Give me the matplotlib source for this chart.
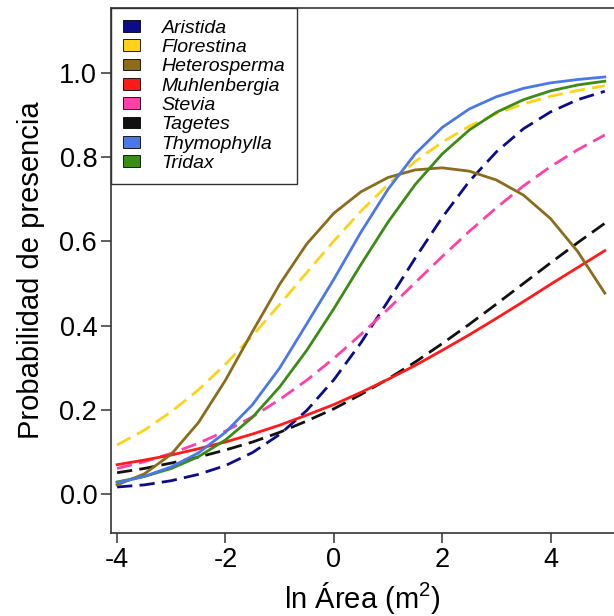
import numpy as np
import matplotlib
matplotlib.use("Agg")
import matplotlib.pyplot as plt
from matplotlib.patches import Patch

plt.rcParams['font.family'] = ['Liberation Sans', 'DejaVu Sans']
plt.rcParams['mathtext.fontset'] = 'custom'
plt.rcParams['mathtext.rm'] = 'Liberation Sans'

# ln área (eje x) donde se leyeron las curvas
ln_area = [-4.0, -3.5, -3.0, -2.5, -2.0, -1.5, -1.0, -0.5, 0.0, 0.5,
           1.0, 1.5, 2.0, 2.5, 3.0, 3.5, 4.0, 4.5, 5.0]

# probabilidad de presencia por género
aristida = [0.016, 0.021, 0.031, 0.046, 0.067, 0.098, 0.141, 0.198, 0.271, 0.359,
            0.458, 0.560, 0.657, 0.743, 0.813, 0.868, 0.908, 0.937, 0.957]
florestina = [0.116, 0.151, 0.195, 0.247, 0.308, 0.376, 0.450, 0.526, 0.601, 0.672,
              0.735, 0.790, 0.836, 0.874, 0.904, 0.927, 0.945, 0.959, 0.970]
heterosperma = [0.021, 0.047, 0.094, 0.169, 0.270, 0.386, 0.498, 0.594, 0.667, 0.718,
                0.752, 0.770, 0.775, 0.767, 0.746, 0.710, 0.654, 0.576, 0.477]
muhlenbergia = [0.069, 0.080, 0.092, 0.107, 0.123, 0.142, 0.163, 0.187, 0.212, 0.241,
                0.272, 0.305, 0.341, 0.378, 0.417, 0.457, 0.498, 0.538, 0.578]
stevia = [0.060, 0.076, 0.096, 0.120, 0.149, 0.183, 0.224, 0.270, 0.322, 0.379,
          0.439, 0.502, 0.564, 0.624, 0.680, 0.732, 0.778, 0.818, 0.853]
tagetes = [0.050, 0.060, 0.073, 0.087, 0.104, 0.123, 0.146, 0.173, 0.202, 0.236,
           0.273, 0.313, 0.357, 0.403, 0.451, 0.500, 0.549, 0.597, 0.643]
thymophylla = [0.026, 0.041, 0.064, 0.097, 0.146, 0.212, 0.299, 0.404, 0.510, 0.622,
               0.724, 0.808, 0.871, 0.915, 0.944, 0.964, 0.977, 0.985, 0.991]
tridax = [0.028, 0.041, 0.060, 0.088, 0.128, 0.182, 0.254, 0.341, 0.440, 0.545,
          0.646, 0.735, 0.808, 0.865, 0.907, 0.937, 0.958, 0.972, 0.981]

generos = ['Aristida', 'Florestina', 'Heterosperma', 'Muhlenbergia',
           'Stevia', 'Tagetes', 'Thymophylla', 'Tridax']
series = [aristida, florestina, heterosperma, muhlenbergia,
          stevia, tagetes, thymophylla, tridax]
colores = ['#0c0c8a', '#ffd21a', '#8c6b1a', '#ff1a1a',
           '#ff40a8', '#111111', '#4a78e8', '#3a8c14']
discontinua = [True, True, False, False, True, True, False, False]
# orden de dibujo (las de atrás primero)
orden = [1, 0, 4, 5, 3, 2, 7, 6]

fig = plt.figure(figsize=(6.14, 6.16), dpi=100)
ax = fig.add_axes([0.181, 0.135, 0.819, 0.852])

for i in orden:
    if discontinua[i]:
        ax.plot(ln_area, series[i], color=colores[i], lw=2.0, dashes=(5.5, 2.6))
    else:
        ax.plot(ln_area, series[i], color=colores[i], lw=2.0)

ax.set_xlim(-4.11, 5.17)
ax.set_ylim(-0.093, 1.155)
ax.set_xticks([-4, -2, 0, 2, 4])
ax.set_xticklabels(['-4', '-2', '0', '2', '4'])
ax.set_yticks([0.0, 0.2, 0.4, 0.6, 0.8, 1.0])
ax.set_yticklabels(['0.0', '0.2', '0.4', '0.6', '0.8', '1.0'])
ax.tick_params(labelsize=19.5, length=7, width=1.1, color='#333333', pad=3)
for lado in ['left', 'bottom', 'top']:
    ax.spines[lado].set_color('#333333')
    ax.spines[lado].set_linewidth(1.2)
ax.spines['right'].set_visible(False)

ax.set_xlabel('ln Área (m$^\\mathrm{2}$)', fontsize=21, labelpad=5)
ax.set_ylabel('Probabilidad de presencia', fontsize=21, labelpad=10)

handles = [Patch(facecolor=c, edgecolor='black', lw=0.6) for c in colores]
leg = ax.legend(handles, generos, loc='upper left', bbox_to_anchor=(0, 1),
                borderaxespad=0, fancybox=False, framealpha=1,
                prop={'style': 'italic', 'size': 14},
                handlelength=0.9, handleheight=0.55, handletextpad=1.1,
                labelspacing=0.12, borderpad=0.6)
leg.get_frame().set_edgecolor('#333333')
leg.get_frame().set_linewidth(1.0)

fig.savefig('out.png', dpi=100)
